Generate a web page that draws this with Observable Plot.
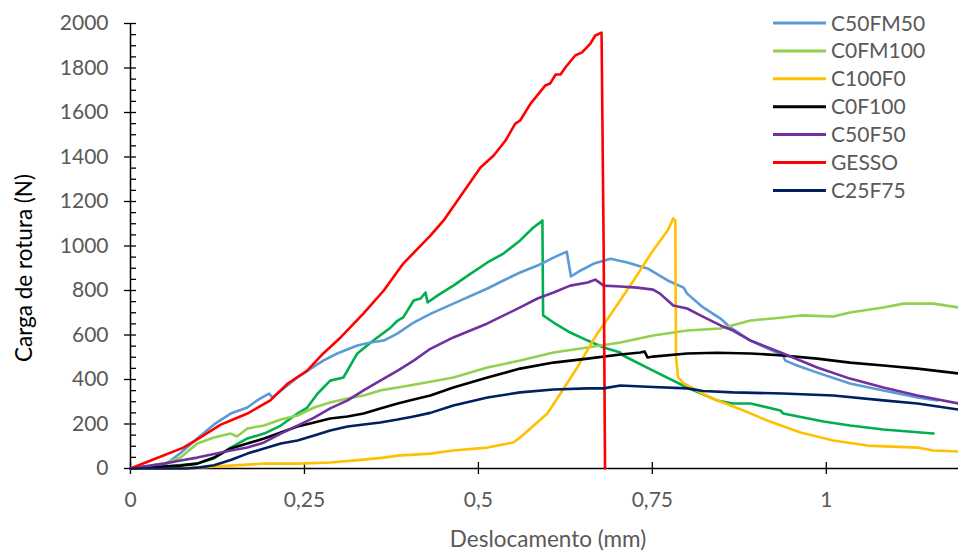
<!DOCTYPE html>
<html>
<head>
<meta charset="utf-8">
<script src="https://cdn.jsdelivr.net/npm/d3@7"></script>
<script src="https://cdn.jsdelivr.net/npm/@observablehq/plot@0.6"></script>
<style>
  html, body { margin: 0; padding: 0; background: #ffffff; }
  #chart svg { display: block; }
</style>
</head>
<body>
<div id="chart"></div>
<script>
// ---- Data ----
const legendNames = ["C50FM50", "C0FM100", "C100F0", "C0F100", "C50F50", "GESSO", "C25F75"];
const legendColors = ["#5B9BD5", "#92D050", "#FFC000", "#000000", "#7030A0", "#FF0000", "#002060"];
const extraName = "C25FM75";      // plotted series without a legend entry
const extraColor = "#00B050";

const xTicks = [0, 0.25, 0.5, 0.75, 1];
const yTicks = [0, 200, 400, 600, 800, 1000, 1200, 1400, 1600, 1800, 2000];
const yMinorTicks = d3.range(0, 2001, 50).filter(v => v % 200 !== 0);

const c25fm75 = [[0,0],[0.048,9],[0.096,22],[0.120,45],[0.144,94],[0.168,135],[0.192,157],[0.216,193],[0.240,247],[0.254,274],[0.269,337],[0.287,395],[0.306,409],[0.326,517],[0.349,575],[0.374,634],[0.384,665],[0.392,679],[0.407,755],[0.417,764],[0.424,791],[0.427,746],[0.441,777],[0.464,822],[0.489,876],[0.513,926],[0.536,966],[0.560,1025],[0.579,1083],[0.589,1106],[0.592,1115],[0.593,688],[0.608,656],[0.632,611],[0.657,575],[0.680,544],[0.704,521],[0.708,508],[0.751,440],[0.800,364],[0.843,306],[0.866,292],[0.891,292],[0.934,261],[0.938,247],[0.996,211],[1.034,193],[1.082,175],[1.154,157]];

const c50fm50 = [[0,0],[0.048,13],[0.072,70],[0.096,135],[0.120,198],[0.144,247],[0.168,274],[0.182,306],[0.199,337],[0.204,319],[0.216,350],[0.240,409],[0.259,449],[0.277,485],[0.297,517],[0.326,553],[0.345,566],[0.364,575],[0.384,607],[0.407,656],[0.431,695],[0.464,741],[0.513,809],[0.536,845],[0.560,881],[0.585,912],[0.608,948],[0.627,975],[0.633,863],[0.647,890],[0.666,921],[0.690,943],[0.714,926],[0.743,899],[0.772,845],[0.795,813],[0.800,786],[0.823,724],[0.848,674],[0.862,634],[0.891,575],[0.938,508],[0.941,485],[0.958,463],[0.987,431],[1.034,382],[1.082,351],[1.131,319],[1.16,306]];

const c0fm100 = [[0,0],[0.048,22],[0.072,49],[0.096,112],[0.120,139],[0.144,157],[0.153,144],[0.168,180],[0.192,193],[0.216,220],[0.240,238],[0.264,274],[0.287,297],[0.312,315],[0.335,328],[0.359,351],[0.384,364],[0.417,382],[0.464,409],[0.513,454],[0.560,485],[0.608,521],[0.657,544],[0.704,566],[0.751,598],[0.800,620],[0.848,629],[0.891,665],[0.938,679],[0.963,688],[1.010,683],[1.034,701],[1.082,724],[1.111,741],[1.154,741],[1.19,724]];

const c100f0 = [[0,0],[0.05,0],[0.096,4],[0.144,13],[0.192,22],[0.240,22],[0.287,27],[0.335,40],[0.364,49],[0.384,58],[0.431,67],[0.464,81],[0.513,94],[0.550,117],[0.560,139],[0.599,247],[0.618,337],[0.642,454],[0.671,607],[0.694,710],[0.723,845],[0.751,980],[0.772,1070],[0.780,1124],[0.783,1115],[0.784,500],[0.787,410],[0.795,382],[0.833,319],[0.881,261],[0.915,216],[0.963,162],[1.010,126],[1.059,103],[1.131,94],[1.154,81],[1.19,76]];

const c0f100 = [[0,0],[0.072,13],[0.096,22],[0.120,49],[0.144,90],[0.168,112],[0.192,135],[0.216,162],[0.240,189],[0.264,207],[0.287,225],[0.312,234],[0.335,247],[0.359,270],[0.384,292],[0.407,310],[0.431,328],[0.464,364],[0.513,409],[0.560,449],[0.608,476],[0.657,494],[0.704,512],[0.733,521],[0.739,526],[0.743,499],[0.751,503],[0.800,517],[0.843,520],[0.891,517],[0.938,508],[0.987,494],[1.034,476],[1.082,463],[1.131,449],[1.19,427]];

const c50f50 = [[0,0],[0.048,22],[0.072,36],[0.096,49],[0.144,81],[0.168,94],[0.192,117],[0.216,157],[0.240,193],[0.264,229],[0.287,270],[0.312,306],[0.335,351],[0.359,395],[0.384,440],[0.407,485],[0.431,538],[0.464,589],[0.513,652],[0.560,724],[0.585,764],[0.608,791],[0.632,822],[0.657,836],[0.668,849],[0.680,822],[0.704,818],[0.728,813],[0.751,804],[0.761,786],[0.772,755],[0.780,733],[0.800,719],[0.819,688],[0.848,643],[0.866,620],[0.891,575],[0.938,517],[0.987,454],[1.034,404],[1.082,364],[1.131,328],[1.19,292]];

const gesso = [[0,0],[0.029,36],[0.076,94],[0.100,139],[0.129,196],[0.144,216],[0.168,247],[0.201,306],[0.226,382],[0.254,440],[0.277,517],[0.302,589],[0.335,697],[0.364,800],[0.392,921],[0.417,1002],[0.431,1047],[0.450,1115],[0.470,1204],[0.503,1353],[0.522,1407],[0.539,1474],[0.553,1550],[0.560,1564],[0.575,1640],[0.596,1721],[0.603,1730],[0.611,1771],[0.618,1771],[0.625,1802],[0.639,1856],[0.649,1870],[0.661,1910],[0.668,1946],[0.677,1959],[0.680,1000],[0.682,0]];

const c25f75 = [[0,0],[0.080,0],[0.100,5],[0.120,15],[0.144,38],[0.168,67],[0.192,90],[0.216,112],[0.240,126],[0.264,148],[0.287,171],[0.312,189],[0.335,198],[0.359,207],[0.384,220],[0.407,234],[0.431,250],[0.464,283],[0.513,319],[0.560,342],[0.608,355],[0.657,360],[0.680,360],[0.704,373],[0.751,366],[0.800,360],[0.823,348],[0.866,342],[0.938,337],[1.010,328],[1.082,306],[1.131,292],[1.19,265]];

// draw order
const seriesList = [
  [extraName, c25fm75],
  ["C50FM50", c50fm50],
  ["C0FM100", c0fm100],
  ["C100F0", c100f0],
  ["C0F100", c0f100],
  ["C50F50", c50f50],
  ["GESSO", gesso],
  ["C25F75", c25f75]
];
const table = seriesList.flatMap(([name, pts]) => pts.map(([x, y]) => ({series: name, x, y})));

const fmtX = d => String(d).replace(".", ",");
const FONT = "Lato, 'Open Sans', sans-serif";

const chart = Plot.plot({
  width: 958,
  height: 551,
  marginLeft: 130,
  marginRight: 0,
  marginTop: 23,
  marginBottom: 83,
  style: {fontFamily: FONT, fontSize: "21px", color: "#595959", background: "#ffffff", overflow: "visible"},
  x: {domain: [0, 1.19], label: null},
  y: {domain: [0, 2000], label: null},
  color: {domain: [extraName, ...legendNames], range: [extraColor, ...legendColors]},
  marks: [
    Plot.axisY({ticks: yTicks, tickSize: 0, tickPadding: 22, tickFormat: d => String(d), label: null, fill: "#595959"}),
    Plot.axisY({ticks: yTicks, tickSize: 12, dx: 6, tickFormat: () => "", label: null, stroke: "#000", strokeWidth: 1.3}),
    Plot.axisY({ticks: yMinorTicks, tickSize: 6, dx: 6, tickFormat: () => "", label: null, stroke: "#000", strokeWidth: 1.3}),
    Plot.axisX({ticks: xTicks, tickSize: 0, tickPadding: 24, tickFormat: fmtX, label: null, fill: "#595959"}),
    Plot.axisX({ticks: xTicks, tickSize: 12, dy: -6, tickFormat: () => "", label: null, stroke: "#000", strokeWidth: 1.3}),
    Plot.ruleX([0], {stroke: "#000", strokeWidth: 1.5}),
    Plot.ruleY([0], {stroke: "#000", strokeWidth: 1.5}),
    Plot.line(table, {x: "x", y: "y", z: "series", stroke: "series", strokeWidth: 2.6, strokeLinejoin: "round"})
  ]
});

document.getElementById("chart").appendChild(chart);

const svg = d3.select(chart);
// axis titles
svg.append("text")
  .attr("x", 548).attr("y", 547)
  .attr("text-anchor", "middle")
  .attr("fill", "#595959")
  .style("font-family", FONT).style("font-size", "22.5px")
  .text("Deslocamento (mm)");
svg.append("text")
  .attr("transform", "translate(32,268) rotate(-90)")
  .attr("text-anchor", "middle")
  .attr("fill", "#000000")
  .style("font-family", FONT).style("font-size", "22.5px")
  .text("Carga de rotura (N)");

// legend
const lg = svg.append("g").attr("text-anchor", "start");
legendNames.forEach((name, i) => {
  const yy = 23 + i * 27.9;
  lg.append("line")
    .attr("x1", 773).attr("x2", 826).attr("y1", yy).attr("y2", yy)
    .attr("stroke", legendColors[i]).attr("stroke-width", 3);
  lg.append("text")
    .attr("x", 831).attr("y", yy).attr("dy", "0.36em")
    .attr("text-anchor", "start")
    .attr("fill", "#595959")
    .style("font-family", FONT).style("font-size", "21px")
    .text(name);
});
</script>
</body>
</html>
